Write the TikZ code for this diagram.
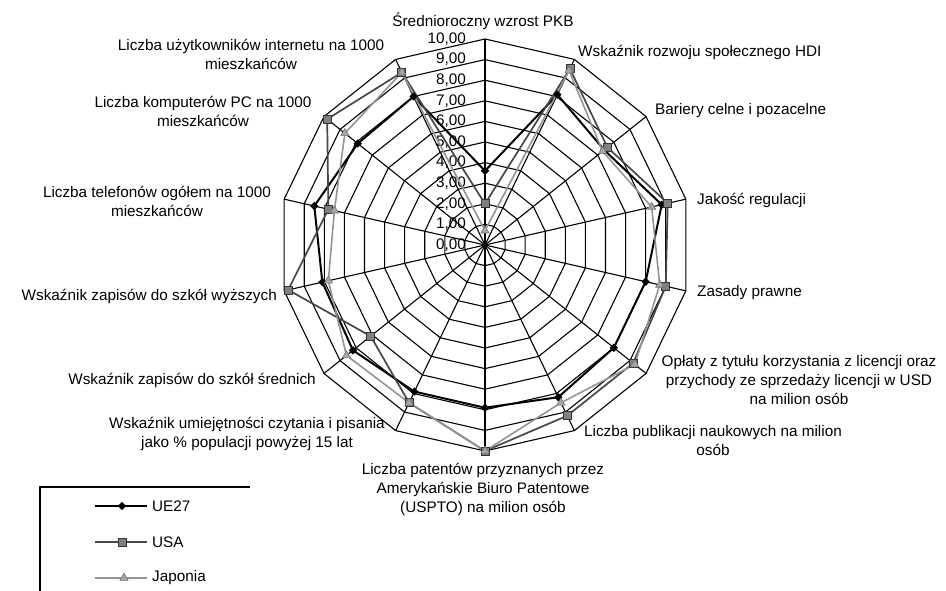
\documentclass[tikz,border=0pt]{standalone}
\usepackage{fontspec}
\setmainfont{Liberation Sans}
\usetikzlibrary{shapes.geometric}
\begin{document}
\begin{tikzpicture}[x=1pt,y=-1pt,
  lbl/.style={font=\fontsize{15.3}{19}\selectfont, inner sep=0pt, align=center},
  gridline/.style={line width=1.1pt, black},
  ueline/.style={line width=2pt, black},
  usline/.style={line width=1.7pt, black!72},
  jpline/.style={line width=1.6pt, black!42},
  mue/.style={diamond, fill=black, inner sep=0pt, minimum size=8.5pt},
  mus/.style={rectangle, fill=black!50, draw=black!80, line width=0.8pt, inner sep=0pt, minimum size=8pt},
  mjp/.style={regular polygon, regular polygon sides=3, fill=black!35, draw=black!55, line width=0.6pt, inner sep=0pt, minimum size=9.5pt}
]
\useasboundingbox (0,0) rectangle (946,591);
\def\cx{485}\def\cy{245}\def\R{20.6}
\coordinate (c) at (\cx,\cy);
% grid coordinates
\foreach \k in {1,...,10}{
  \foreach \i in {0,...,13}{
    \coordinate (g\k-\i) at ({\cx+\k*\R*cos(90-\i*360/14)},{\cy-\k*\R*sin(90-\i*360/14)});
  }
}
% rings
\foreach \k in {1,...,10}{
  \draw[gridline] (g\k-0) \foreach \i in {1,...,13}{ -- (g\k-\i)} -- cycle;
}
% spokes
\foreach \i in {0,...,13}{ \draw[gridline] (c) -- (g10-\i); }
% ring labels
\foreach \k in {0,...,10}{
  \node[lbl, anchor=east] (rl\k) at (466,{\cy-\k*\R}) {\k,00};
}
% data
\foreach \i/\v in {0/3.6,1/8.1,2/7.4,3/8.8,4/8.0,5/8.0,6/8.2,7/7.9,8/7.9,9/8.2,10/8.1,11/8.5,12/7.9,13/8.0}{
  \coordinate (ue\i) at ({\cx+\v*\R*cos(90-\i*360/14)},{\cy-\v*\R*sin(90-\i*360/14)});
}
\foreach \i/\v in {0/2.0,1/9.5,2/7.6,3/9.1,4/9.0,5/9.2,6/9.2,7/10.0,8/8.5,9/7.1,10/9.8,11/7.8,12/9.8,13/9.3}{
  \coordinate (us\i) at ({\cx+\v*\R*cos(90-\i*360/14)},{\cy-\v*\R*sin(90-\i*360/14)});
}
\foreach \i/\v in {0/0.7,1/9.4,2/7.3,3/8.3,4/8.7,5/9.3,6/8.5,7/10.0,8/8.5,9/8.6,10/7.8,11/7.5,12/8.7,13/9.3}{
  \coordinate (jp\i) at ({\cx+\v*\R*cos(90-\i*360/14)},{\cy-\v*\R*sin(90-\i*360/14)});
}
\draw[ueline] (ue0) \foreach \i in {1,...,13}{ -- (ue\i)} -- cycle;
\draw[usline] (us0) \foreach \i in {1,...,13}{ -- (us\i)} -- cycle;
\draw[jpline] (jp0) \foreach \i in {1,...,13}{ -- (jp\i)} -- cycle;
\foreach \i in {0,...,13}{
  \node[mue] (mue\i) at (ue\i) {};
  \node[mus] (mus\i) at (us\i) {};
  \node[mjp] (mjp\i) at (jp\i) {};
}
% axis labels
\node[lbl] (a0) at (483,21) {Średnioroczny wzrost PKB};
\node[lbl, anchor=west] (a1) at (578,52) {Wskaźnik rozwoju społecznego HDI};
\node[lbl, anchor=west] (a2) at (655,111) {Bariery celne i pozacelne};
\node[lbl, anchor=west] (a3) at (697,200) {Jakość regulacji};
\node[lbl, anchor=west] (a4) at (697,293) {Zasady prawne};
\node[lbl] (a5) at (799,380) {Opłaty z tytułu korzystania z licencji oraz\\przychody ze sprzedaży licencji w USD\\na milion osób};
\node[lbl] (a6) at (713,441) {Liczba publikacji naukowych na milion\\osób};
\node[lbl] (a7) at (483,489) {Liczba patentów przyznanych przez\\Amerykańskie Biuro Patentowe\\(USPTO) na milion osób};
\node[lbl] (a8) at (247,434) {Wskaźnik umiejętności czytania i pisania\\jako \% populacji powyżej 15 lat};
\node[lbl, anchor=east] (a9) at (316,380) {Wskaźnik zapisów do szkół średnich};
\node[lbl, anchor=east] (a10) at (277,296) {Wskaźnik zapisów do szkół wyższych};
\node[lbl] (a11) at (157,201) {Liczba telefonów ogółem na 1000\\mieszkańców};
\node[lbl] (a12) at (203,111) {Liczba komputerów PC na 1000\\mieszkańców};
\node[lbl] (a13) at (251,54) {Liczba użytkowników internetu na 1000\\mieszkańców};
% legend
\coordinate (lb1) at (40,591);
\coordinate (lb2) at (40,487);
\coordinate (lb3) at (250,487);
\draw[line width=1.1pt] (lb1) -- (lb2) -- (lb3);
\coordinate (l1a) at (95,506); \coordinate (l1b) at (147,506);
\coordinate (l2a) at (95,542); \coordinate (l2b) at (147,542);
\coordinate (l3a) at (95,578); \coordinate (l3b) at (147,578);
\draw[ueline] (l1a) -- (l1b);
\draw[usline] (l2a) -- (l2b);
\draw[jpline] (l3a) -- (l3b);
\node[mue] (lm1) at (122,506) {};
\node[mus] (lm2) at (122,542) {};
\node[mjp] (lm3) at (124,578) {};
\node[lbl, anchor=west] (lt1) at (152,506) {UE27};
\node[lbl, anchor=west] (lt2) at (152,542) {USA};
\node[lbl, anchor=west] (lt3) at (152,578) {Japonia};
\end{tikzpicture}
\end{document}
